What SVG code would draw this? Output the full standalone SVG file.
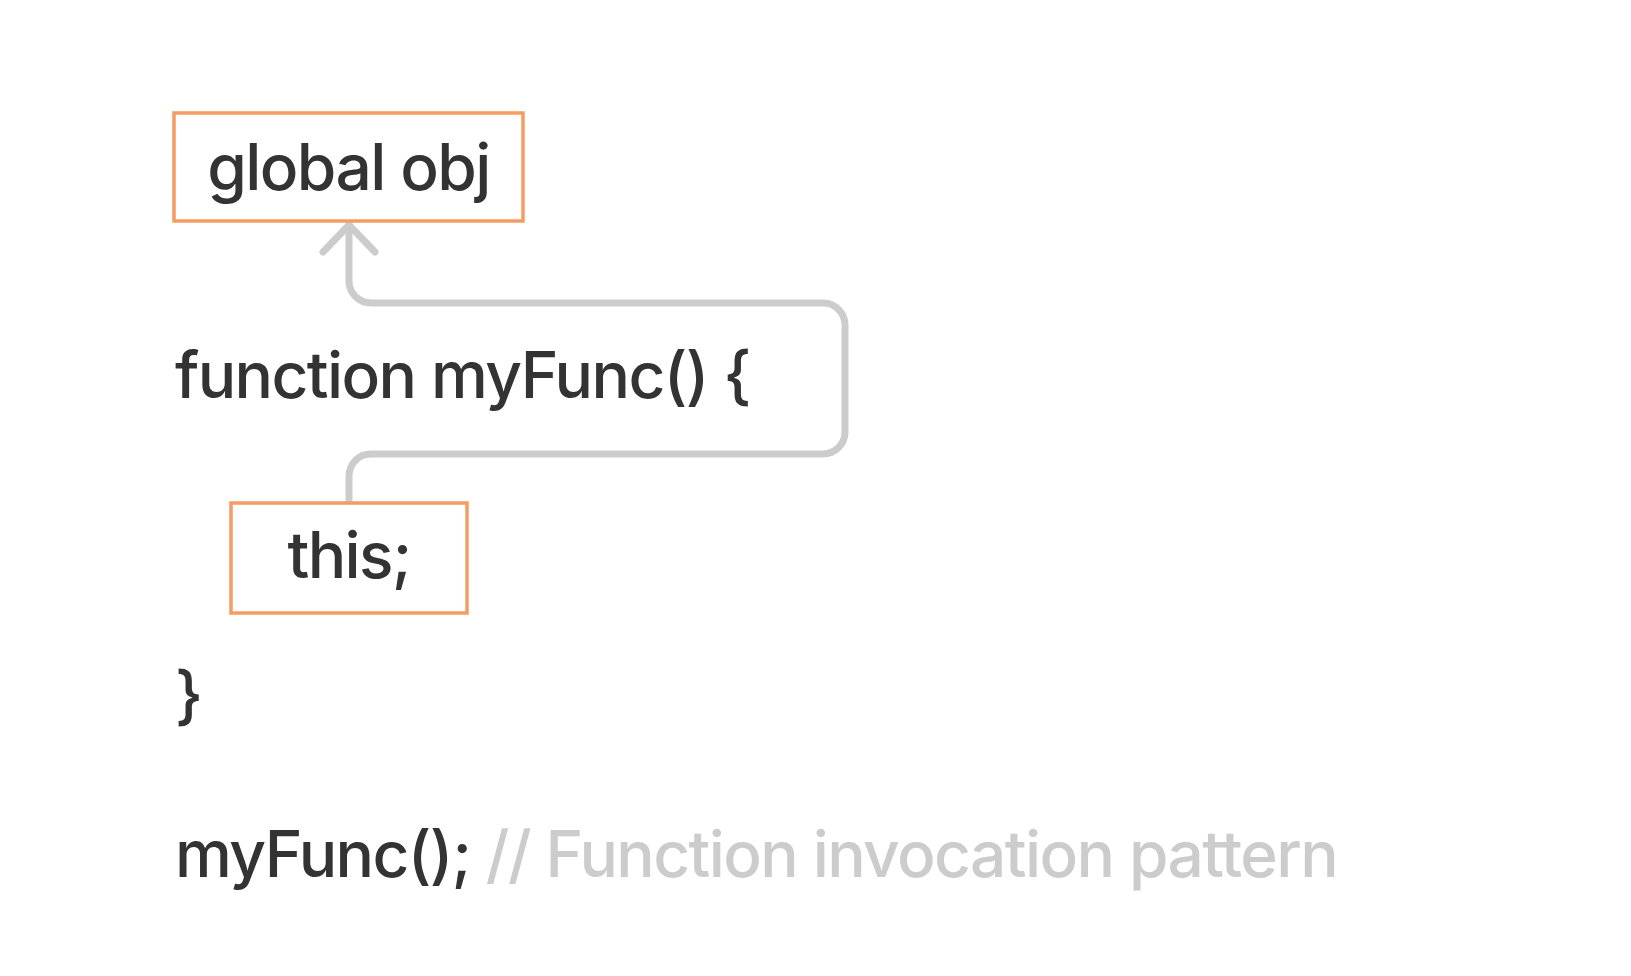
<svg xmlns="http://www.w3.org/2000/svg" width="1631" height="976" viewBox="0 0 1631 976">
  <style>
    .code { font-family: Inter, "Noto Sans", "Liberation Sans", sans-serif; font-size: 64px; font-weight: 500; letter-spacing: -1.6px; fill: #333333; }
    .comment { fill: #cccccc; }
    .box { fill: #ffffff; stroke: #f49c63; stroke-width: 3.5; }
    .conn { fill: none; stroke: #cccccc; stroke-width: 7; stroke-linecap: round; stroke-linejoin: round; }
  </style>
  <rect x="0" y="0" width="1631" height="976" fill="#ffffff"/>
  <g id="connectors">
    <path class="conn" d="M349,500 V476 A22,22 0 0 1 371,454 H823 A22,22 0 0 0 845,432 V325 A22,22 0 0 0 823,303 H371 A22,22 0 0 1 349,281 V225"/>
    <path class="conn" d="M323,252 L349,225 L375,252"/>
  </g>
  <g id="global-obj">
    <rect class="box" x="174" y="113" width="349" height="108"/>
    <text class="code" x="348.5" y="190" text-anchor="middle">global obj</text>
  </g>
  <g id="function-line">
    <text class="code" x="175" y="398">function myFunc() {</text>
  </g>
  <g id="this-node">
    <rect class="box" x="231" y="503" width="236" height="110"/>
    <text class="code" x="349" y="578" text-anchor="middle">this;</text>
  </g>
  <g id="close-brace">
    <text class="code" x="175" y="718">}</text>
  </g>
  <g id="invocation-line">
    <text class="code" x="175" y="877">myFunc(); <tspan class="comment">// Function invocation pattern</tspan></text>
  </g>
</svg>
